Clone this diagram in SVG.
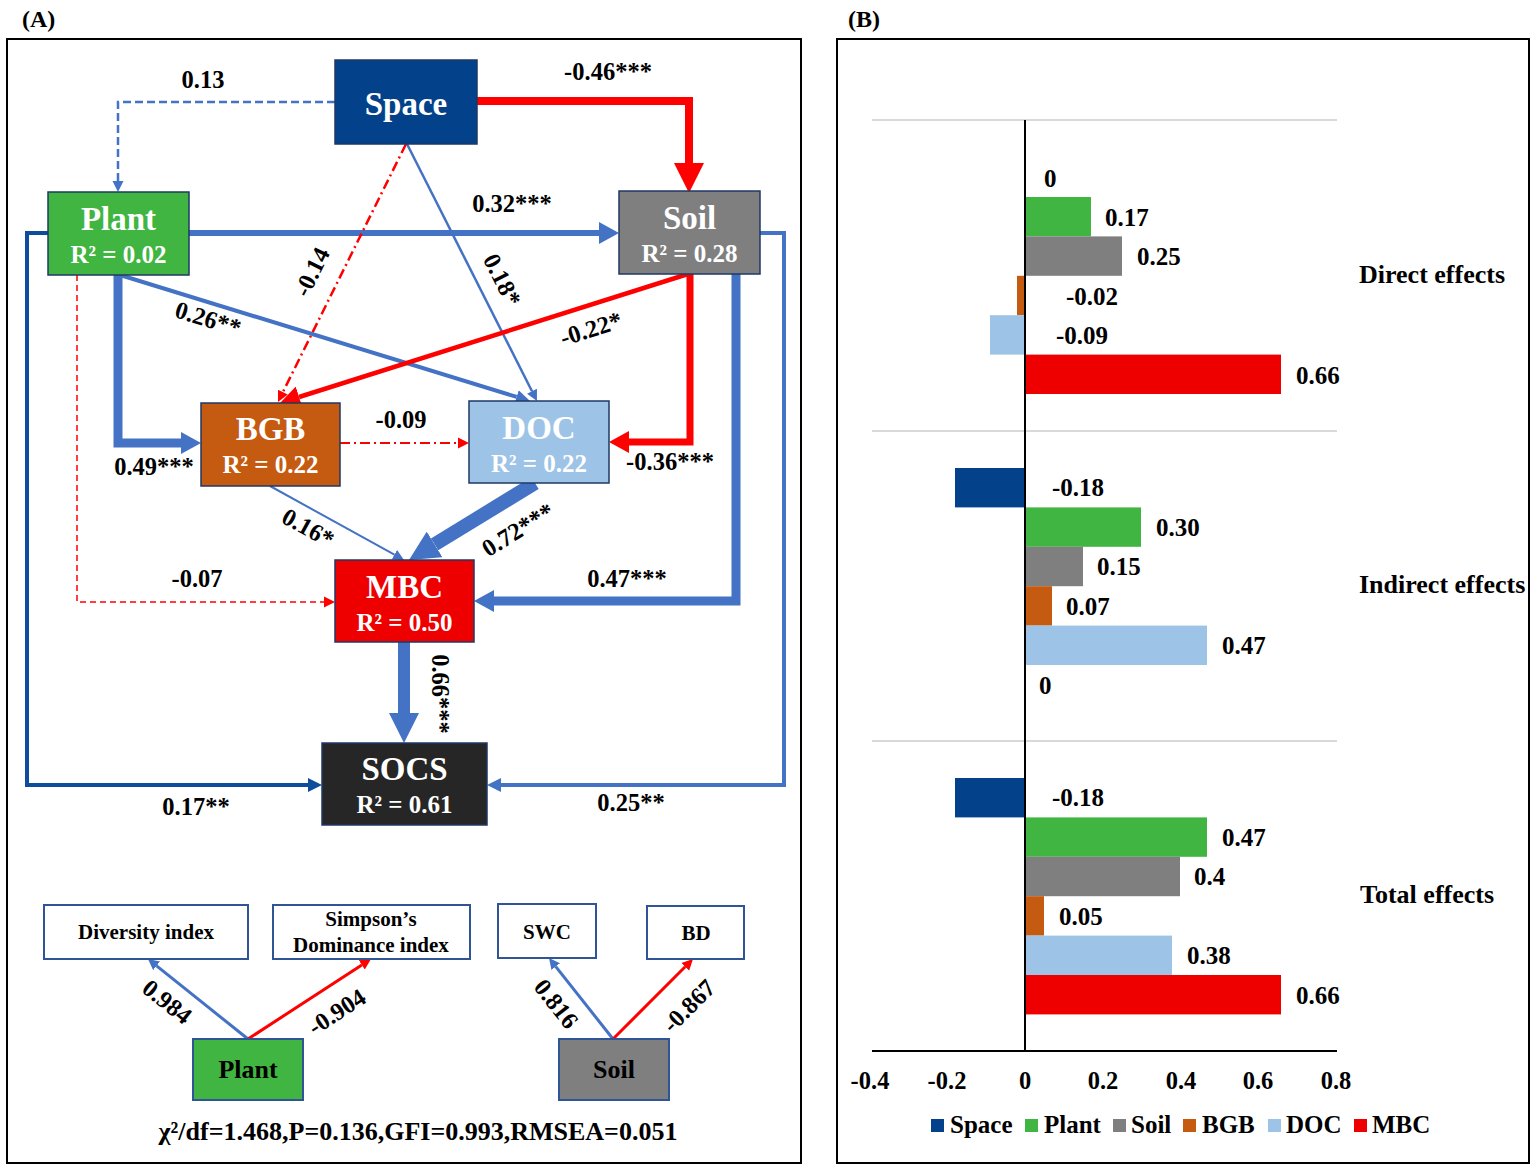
<svg xmlns="http://www.w3.org/2000/svg" width="1535" height="1170" viewBox="0 0 1535 1170">
<style>
.t{font-family:"Liberation Serif","Times New Roman",serif;font-weight:bold}
.lbl{font-size:24.5px;fill:#000;text-anchor:middle}
.lbs{font-size:25px;fill:#000}
.cat{font-size:26px;fill:#000}
.nn{font-size:33px;fill:#fff;text-anchor:middle}
.r2{font-size:25px;fill:#fff;text-anchor:middle}
.mt{font-size:21px;fill:#000;text-anchor:middle}
.blue{stroke:#4472C4;fill:none}
.red{stroke:#FF0000;fill:none}
.dark{stroke:#0E4C9C;fill:none}
.box{stroke:#1F3864;stroke-width:1.5}
.mbox{fill:#fff;stroke:#2F5597;stroke-width:2}
.grid{stroke:#D9D9D9;stroke-width:2}
.axis{stroke:#000;stroke-width:2}
</style>
<defs>
<marker id="bXS" markerUnits="userSpaceOnUse" viewBox="0 -6 11 12" markerWidth="11" markerHeight="12" refX="0" refY="0" orient="auto"><path d="M0,-5.5L11,0L0,5.5z" fill="#4472C4"/></marker>
<marker id="bS" markerUnits="userSpaceOnUse" viewBox="0 -7 14 14" markerWidth="14" markerHeight="14" refX="0" refY="0" orient="auto"><path d="M0,-7L14,0L0,7z" fill="#4472C4"/></marker>
<marker id="bM" markerUnits="userSpaceOnUse" viewBox="0 -11 20 22" markerWidth="20" markerHeight="22" refX="0" refY="0" orient="auto"><path d="M0,-11L20,0L0,11z" fill="#4472C4"/></marker>
<marker id="bL" markerUnits="userSpaceOnUse" viewBox="0 -15 30 30" markerWidth="30" markerHeight="30" refX="0" refY="0" orient="auto"><path d="M0,-15L30,0L0,15z" fill="#4472C4"/></marker>
<marker id="rXS" markerUnits="userSpaceOnUse" viewBox="0 -6 11 12" markerWidth="11" markerHeight="12" refX="0" refY="0" orient="auto"><path d="M0,-5.5L11,0L0,5.5z" fill="#FF0000"/></marker>
<marker id="rM" markerUnits="userSpaceOnUse" viewBox="0 -11 20 22" markerWidth="20" markerHeight="22" refX="0" refY="0" orient="auto"><path d="M0,-11L20,0L0,11z" fill="#FF0000"/></marker>
<marker id="rL" markerUnits="userSpaceOnUse" viewBox="0 -15 30 30" markerWidth="30" markerHeight="30" refX="0" refY="0" orient="auto"><path d="M0,-15L30,0L0,15z" fill="#FF0000"/></marker>
<marker id="dS" markerUnits="userSpaceOnUse" viewBox="0 -7 14 14" markerWidth="14" markerHeight="14" refX="0" refY="0" orient="auto"><path d="M0,-7L14,0L0,7z" fill="#0E4C9C"/></marker>
</defs>
<rect width="1535" height="1170" fill="#fff"/>

<!-- Panel A -->
<text class="t" x="22" y="27" font-size="24">(A)</text>
<rect x="7" y="39" width="794" height="1124" fill="none" stroke="#000" stroke-width="2"/>

<g id="connectors">
  <path class="blue" stroke-width="2.5" stroke-dasharray="8,4" d="M335,102H118V181" marker-end="url(#bXS)"/>
  <path class="red" stroke-width="8" d="M477,101H689V163" marker-end="url(#rL)"/>
  <path class="blue" stroke-width="6" d="M189,233H599" marker-end="url(#bM)"/>
  <path class="blue" stroke-width="2.5" d="M407,144L532,391.2" marker-end="url(#bXS)"/>
  <path class="red" stroke-width="2.5" stroke-dasharray="10,4,2,4" d="M406,144L282.9,392.1" marker-end="url(#rXS)"/>
  <path class="blue" stroke-width="4" d="M120,275L516.6,396.9" marker-end="url(#bS)"/>
  <path class="blue" stroke-width="9" d="M118,275V443H181" marker-end="url(#bM)"/>
  <path class="red" stroke-width="4.5" d="M688,274L299.1,397" marker-end="url(#rM)"/>
  <path class="red" stroke-width="7" d="M690,274V442H629" marker-end="url(#rM)"/>
  <path class="blue" stroke-width="9" d="M736,274V601H494" marker-end="url(#bM)"/>
  <path class="blue" stroke-width="4" d="M760,233H784V785H501" marker-end="url(#bS)"/>
  <path class="dark" stroke-width="4" d="M48,233H27V785H308" marker-end="url(#dS)"/>
  <path class="blue" stroke-width="2" d="M270,486L394.4,554.7" marker-end="url(#bXS)"/>
  <path class="blue" stroke-width="14" d="M535,483L434.6,544.4" marker-end="url(#bL)"/>
  <path class="red" stroke-width="2" stroke-dasharray="10,4,2,4" d="M340,443H458" marker-end="url(#rXS)"/>
  <path class="red" stroke-width="1.5" stroke-dasharray="6,4" d="M77,275V602H324" marker-end="url(#rXS)"/>
  <path class="blue" stroke-width="12" d="M404,642V713" marker-end="url(#bL)"/>
  <!-- measurement model -->
  <path class="blue" stroke-width="3" d="M248,1039L156.6,965.9" marker-end="url(#bXS)"/>
  <path class="red" stroke-width="3" d="M248,1039L361.8,965" marker-end="url(#rXS)"/>
  <path class="blue" stroke-width="3" d="M613,1039L555.8,966.6" marker-end="url(#bXS)"/>
  <path class="red" stroke-width="3" d="M613,1039L685.2,966.8" marker-end="url(#rXS)"/>
</g>

<g id="edge-labels" class="t">
  <text class="lbl" x="203" y="88">0.13</text>
  <text class="lbl" x="608" y="80">-0.46***</text>
  <text class="lbl" x="512" y="212">0.32***</text>
  <text class="lbl" transform="translate(502,280) rotate(63.5)" x="0" y="8">0.18*</text>
  <text class="lbl" transform="translate(312,272) rotate(-63.5)" x="0" y="8">-0.14</text>
  <text class="lbl" transform="translate(208,319) rotate(17)" x="0" y="8">0.26**</text>
  <text class="lbl" transform="translate(591,329) rotate(-17.5)" x="0" y="8">-0.22*</text>
  <text class="lbl" x="154" y="475">0.49***</text>
  <text class="lbl" x="401" y="428">-0.09</text>
  <text class="lbl" x="670" y="470">-0.36***</text>
  <text class="lbl" transform="translate(308,528) rotate(29)" x="0" y="8">0.16*</text>
  <text class="lbl" transform="translate(518,530) rotate(-31.5)" x="0" y="8">0.72***</text>
  <text class="lbl" x="197" y="587">-0.07</text>
  <text class="lbl" x="627" y="587">0.47***</text>
  <text class="lbl" transform="translate(440,694) rotate(90)" x="0" y="8">0.66***</text>
  <text class="lbl" x="196" y="815">0.17**</text>
  <text class="lbl" x="631" y="811">0.25**</text>
  <text class="lbl" transform="translate(167,1002) rotate(38.7)" x="0" y="8">0.984</text>
  <text class="lbl" transform="translate(337,1012) rotate(-33)" x="0" y="8">-0.904</text>
  <text class="lbl" transform="translate(556,1004) rotate(51.7)" x="0" y="8">0.816</text>
  <text class="lbl" transform="translate(689,1006) rotate(-45)" x="0" y="8">-0.867</text>
</g>

<g id="node-space" class="t">
  <rect class="box" x="335" y="60" width="142" height="84" fill="#03428A"/>
  <text class="nn" x="406" y="115">Space</text>
</g>
<g id="node-plant" class="t">
  <rect class="box" x="48" y="192" width="141" height="83" fill="#41B541"/>
  <text class="nn" x="118.5" y="230">Plant</text>
  <text class="r2" x="118.5" y="263">R² = 0.02</text>
</g>
<g id="node-soil" class="t">
  <rect class="box" x="619" y="191" width="141" height="83" fill="#7F7F7F"/>
  <text class="nn" x="689.5" y="229">Soil</text>
  <text class="r2" x="689.5" y="262">R² = 0.28</text>
</g>
<g id="node-bgb" class="t">
  <rect class="box" x="201" y="403" width="139" height="83" fill="#C55A11"/>
  <text class="nn" x="270.5" y="440">BGB</text>
  <text class="r2" x="270.5" y="473">R² = 0.22</text>
</g>
<g id="node-doc" class="t">
  <rect class="box" x="469" y="401" width="140" height="82" fill="#9DC3E6"/>
  <text class="nn" x="539" y="439">DOC</text>
  <text class="r2" x="539" y="472">R² = 0.22</text>
</g>
<g id="node-mbc" class="t">
  <rect class="box" x="335" y="560" width="139" height="82" fill="#EE0000"/>
  <text class="nn" x="404.5" y="598">MBC</text>
  <text class="r2" x="404.5" y="631">R² = 0.50</text>
</g>
<g id="node-socs" class="t">
  <rect class="box" x="322" y="743" width="165" height="82" fill="#262626"/>
  <text class="nn" x="404.5" y="780">SOCS</text>
  <text class="r2" x="404.5" y="813">R² = 0.61</text>
</g>

<g id="node-diversity" class="t">
  <rect class="mbox" x="44" y="905" width="204" height="54"/>
  <text class="mt" x="146" y="939">Diversity index</text>
</g>
<g id="node-simpson" class="t">
  <rect class="mbox" x="273" y="905" width="197" height="54"/>
  <text class="mt" x="371" y="926">Simpson’s</text>
  <text class="mt" x="371" y="952">Dominance index</text>
</g>
<g id="node-swc" class="t">
  <rect class="mbox" x="498" y="904" width="98" height="54"/>
  <text class="mt" x="547" y="939">SWC</text>
</g>
<g id="node-bd" class="t">
  <rect class="mbox" x="647" y="906" width="97" height="53"/>
  <text class="mt" x="696" y="940">BD</text>
</g>
<g id="node-plant-m" class="t">
  <rect x="193" y="1039" width="110" height="61" fill="#41B541" stroke="#2F5597" stroke-width="2"/>
  <text x="248" y="1078" font-size="26" text-anchor="middle" fill="#000">Plant</text>
</g>
<g id="node-soil-m" class="t">
  <rect x="559" y="1039" width="110" height="61" fill="#7F7F7F" stroke="#2F5597" stroke-width="2"/>
  <text x="614" y="1078" font-size="26" text-anchor="middle" fill="#000">Soil</text>
</g>
<text class="t" x="418" y="1140" font-size="26" text-anchor="middle">χ²/df=1.468,P=0.136,GFI=0.993,RMSEA=0.051</text>

<!-- Panel B -->
<text class="t" x="848" y="27" font-size="24">(B)</text>
<rect x="837" y="39" width="692" height="1124" fill="none" stroke="#000" stroke-width="2"/>
<g id="chart">
  <line class="grid" x1="872" y1="120" x2="1337" y2="120"/>
  <line class="grid" x1="872" y1="431" x2="1337" y2="431"/>
  <line class="grid" x1="872" y1="741" x2="1337" y2="741"/>
  <!-- Direct -->
  <rect x="1025" y="197" width="66" height="39.4" fill="#41B541"/>
  <rect x="1025" y="236.4" width="97" height="39.4" fill="#7F7F7F"/>
  <rect x="1017" y="275.8" width="8" height="39.4" fill="#C55A11"/>
  <rect x="990" y="315.2" width="35" height="39.4" fill="#9DC3E6"/>
  <rect x="1025" y="354.6" width="256" height="39.4" fill="#EE0000"/>
  <!-- Indirect -->
  <rect x="955" y="468" width="70" height="39.4" fill="#03428A"/>
  <rect x="1025" y="507.4" width="116" height="39.4" fill="#41B541"/>
  <rect x="1025" y="546.8" width="58" height="39.4" fill="#7F7F7F"/>
  <rect x="1025" y="586.2" width="27" height="39.4" fill="#C55A11"/>
  <rect x="1025" y="625.6" width="182" height="39.4" fill="#9DC3E6"/>
  <!-- Total -->
  <rect x="955" y="778" width="70" height="39.4" fill="#03428A"/>
  <rect x="1025" y="817.4" width="182" height="39.4" fill="#41B541"/>
  <rect x="1025" y="856.8" width="155" height="39.4" fill="#7F7F7F"/>
  <rect x="1025" y="896.2" width="19" height="39.4" fill="#C55A11"/>
  <rect x="1025" y="935.6" width="147" height="39.4" fill="#9DC3E6"/>
  <rect x="1025" y="975" width="256" height="39.4" fill="#EE0000"/>
  <line class="axis" x1="1025" y1="120" x2="1025" y2="1051"/>
  <line class="axis" x1="872" y1="1051" x2="1337" y2="1051"/>
</g>
<g id="chart-labels" class="t">
  <text class="lbs" x="1044" y="187">0</text>
  <text class="lbs" x="1105" y="226">0.17</text>
  <text class="lbs" x="1137" y="265">0.25</text>
  <text class="lbs" x="1066" y="305">-0.02</text>
  <text class="lbs" x="1056" y="344">-0.09</text>
  <text class="lbs" x="1296" y="384">0.66</text>
  <text class="lbs" x="1052" y="496">-0.18</text>
  <text class="lbs" x="1156" y="536">0.30</text>
  <text class="lbs" x="1097" y="575">0.15</text>
  <text class="lbs" x="1066" y="615">0.07</text>
  <text class="lbs" x="1222" y="654">0.47</text>
  <text class="lbs" x="1039" y="694">0</text>
  <text class="lbs" x="1052" y="806">-0.18</text>
  <text class="lbs" x="1222" y="846">0.47</text>
  <text class="lbs" x="1194" y="885">0.4</text>
  <text class="lbs" x="1059" y="925">0.05</text>
  <text class="lbs" x="1187" y="964">0.38</text>
  <text class="lbs" x="1296" y="1004">0.66</text>
  <text class="cat" x="1359" y="283">Direct effects</text>
  <text class="cat" x="1359" y="593">Indirect effects</text>
  <text class="cat" x="1360" y="903">Total effects</text>
  <text class="lbl" x="870" y="1089">-0.4</text>
  <text class="lbl" x="947" y="1089">-0.2</text>
  <text class="lbl" x="1025" y="1089">0</text>
  <text class="lbl" x="1103" y="1089">0.2</text>
  <text class="lbl" x="1181" y="1089">0.4</text>
  <text class="lbl" x="1258" y="1089">0.6</text>
  <text class="lbl" x="1336" y="1089">0.8</text>
</g>
<g id="legend" class="t">
  <rect x="931" y="1119" width="13" height="13" fill="#03428A"/>
  <text class="lbs" x="950" y="1133">Space</text>
  <rect x="1025" y="1119" width="13" height="13" fill="#41B541"/>
  <text class="lbs" x="1044" y="1133">Plant</text>
  <rect x="1113" y="1119" width="13" height="13" fill="#7F7F7F"/>
  <text class="lbs" x="1131" y="1133">Soil</text>
  <rect x="1183" y="1119" width="13" height="13" fill="#C55A11"/>
  <text class="lbs" x="1202" y="1133">BGB</text>
  <rect x="1268" y="1119" width="13" height="13" fill="#9DC3E6"/>
  <text class="lbs" x="1286" y="1133">DOC</text>
  <rect x="1354" y="1119" width="13" height="13" fill="#EE0000"/>
  <text class="lbs" x="1372" y="1133">MBC</text>
</g>
</svg>
